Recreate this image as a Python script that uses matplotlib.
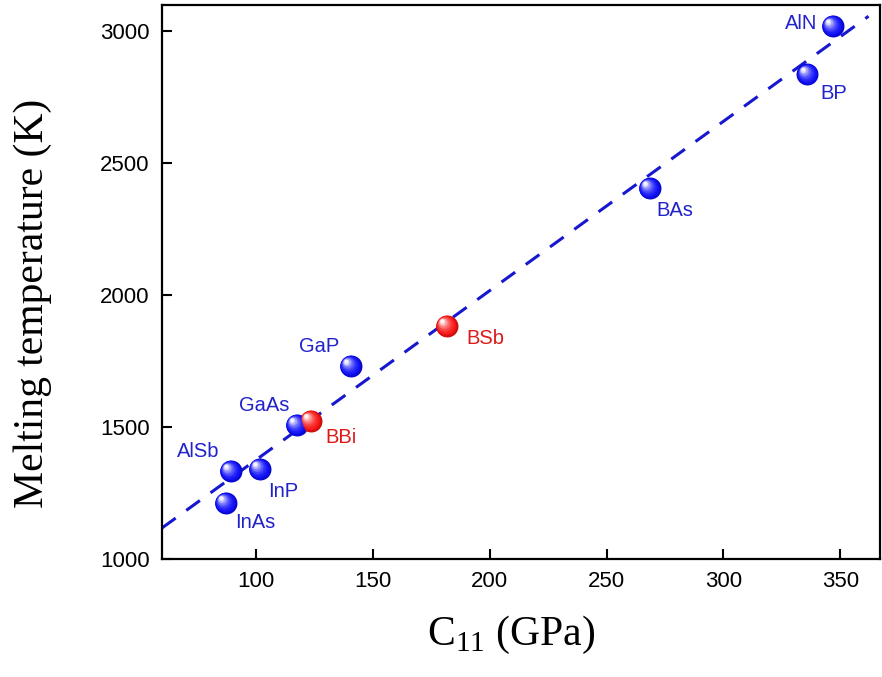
import numpy as np
import matplotlib
matplotlib.use("Agg")
import matplotlib.pyplot as plt
from matplotlib.colors import to_rgb
import matplotlib.transforms as mtransforms

# data
compounds = ["AlN", "BP", "BAs", "BSb", "GaP", "GaAs", "BBi", "AlSb", "InP", "InAs"]
c11 = [346.6, 335.9, 268.4, 181.6, 140.6, 117.5, 123.5, 89.3, 101.7, 87.2]
t_melt = [3019, 2837, 2405, 1883, 1731, 1508, 1523, 1333, 1341, 1212]
is_new = [False, False, False, True, False, False, True, False, False, False]

# dashed trend line
fit_x = [60, 362]
fit_slope = 6.42
fit_at_60 = 1117.6

# label offsets in points, alignment
label_pos = {
    "AlN": (-11, 2, "right"),
    "BP": (9, -14, "left"),
    "BAs": (5, -16, "left"),
    "BSb": (14, -9, "left"),
    "GaP": (-8, 14, "right"),
    "GaAs": (-5, 14, "right"),
    "BBi": (11, -12, "left"),
    "AlSb": (-8, 14, "right"),
    "InP": (6, -16, "left"),
    "InAs": (7, -14, "left"),
}

BLUE = "#0a0af8"
RED = "#f81010"
BLUE_TXT = "#2222cc"
RED_TXT = "#dd1a1a"

plt.rcParams["font.family"] = ["Liberation Sans", "DejaVu Sans"]
plt.rcParams["mathtext.fontset"] = "custom"
plt.rcParams["mathtext.rm"] = "Liberation Serif"

fig = plt.figure(figsize=(8.82, 6.77), dpi=100)
ax = fig.add_axes([0.1837, 0.1743, 0.8143, 0.8187])


def sphere(ax, x, y, color, size=15.8):
    base = np.array(to_rgb(color))
    n = 16
    for i in range(n):
        f = 1 - i / n * 0.88
        light = (i / (n - 1)) ** 2.0
        col = base * (0.82 + 0.18 * min(1, i / 3)) + (1 - base) * light * 0.95
        col = np.clip(col, 0, 1)
        shift = (1 - f) * size * 0.27
        tr = mtransforms.offset_copy(ax.transData, fig=fig, x=-shift, y=shift, units="points")
        ax.plot(x, y, "o", ms=size * f, color=col, mec="none", transform=tr, zorder=3 + i * 0.01)


xs = np.array(fit_x, dtype=float)
ax.plot(xs, fit_at_60 + fit_slope * (xs - 60), color="#1717d0", lw=2.2,
        dashes=(5.5, 4.3), zorder=2)

for name, x, y, new in zip(compounds, c11, t_melt, is_new):
    dx, dy, ha = label_pos[name]
    sphere(ax, x, y, RED if new else BLUE)
    ax.annotate(name, (x, y), xytext=(dx, dy), textcoords="offset points",
                ha=ha, va="center", fontsize=14.5, color=RED_TXT if new else BLUE_TXT, zorder=5)

ax.set_xlim(60, 367)
ax.set_ylim(1000, 3100)
ax.set_xticks([100, 150, 200, 250, 300, 350])
ax.set_yticks([1000, 1500, 2000, 2500, 3000])
ax.tick_params(direction="in", length=7, width=1.5, labelsize=16, pad=9)
ax.tick_params(axis="y", pad=9)
for s in ax.spines.values():
    s.set_linewidth(1.6)

ax.set_xlabel(r"C$_{\mathregular{11}}$ (GPa)", fontsize=30, family="Liberation Serif")
ax.set_ylabel("Melting temperature (K)", fontsize=30, family="Liberation Serif")
ax.xaxis.set_label_coords(0.486, -0.1)
ax.yaxis.set_label_coords(-0.153, 0.462)

fig.savefig("out.png", dpi=100)
